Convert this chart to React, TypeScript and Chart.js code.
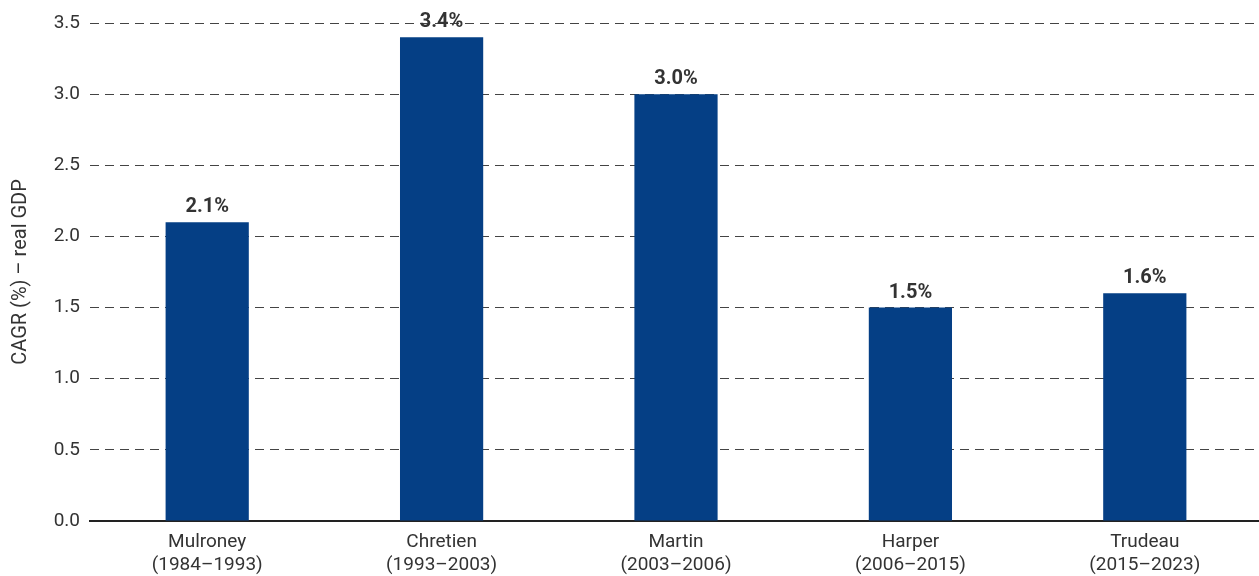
import React, { useEffect, useRef } from "react";
import { Chart, registerables } from "chart.js";

Chart.register(...registerables);

const categories: string[][] = [
  ["Mulroney", "(1984–1993)"],
  ["Chretien", "(1993–2003)"],
  ["Martin", "(2003–2006)"],
  ["Harper", "(2006–2015)"],
  ["Trudeau", "(2015–2023)"],
];
const cagrValues: number[] = [2.1, 3.4, 3.0, 1.5, 1.6];
const yAxisTitle = "CAGR (%) – real GDP";

const BAR_COLOR = "#053f85";
const TEXT_COLOR = "#333333";
const FONT = "Roboto, 'Liberation Sans', sans-serif";

const valueLabels = {
  id: "valueLabels",
  afterDatasetsDraw(chart: any) {
    const ctx = chart.ctx;
    const meta = chart.getDatasetMeta(0);
    ctx.save();
    ctx.fillStyle = TEXT_COLOR;
    ctx.font = `bold 20px ${FONT}`;
    ctx.textAlign = "center";
    ctx.textBaseline = "alphabetic";
    meta.data.forEach((bar: any, i: number) => {
      const v = chart.data.datasets[0].data[i] as number;
      ctx.fillText(v.toFixed(1) + "%", bar.x, bar.y - 10);
    });
    ctx.restore();
  },
};

export default function App() {
  const ref = useRef<HTMLCanvasElement>(null);
  useEffect(() => {
    document.body.style.margin = "0";
    document.body.style.overflow = "hidden";
    const chart = new Chart(ref.current!, {
      type: "bar",
      data: {
        labels: categories,
        datasets: [
          {
            data: cagrValues,
            backgroundColor: BAR_COLOR,
            barPercentage: 0.355,
            categoryPercentage: 1,
          },
        ],
      },
      options: {
        animation: false,
        responsive: false,
        devicePixelRatio: 1,
        layout: { padding: { top: 23, right: 0, left: 0, bottom: 0 } },
        plugins: {
          legend: { display: false },
          tooltip: { enabled: false },
        },
        scales: {
          x: {
            grid: { display: false, drawTicks: false },
            border: { display: true, color: "#222222", width: 2 },
            ticks: {
              color: TEXT_COLOR,
              font: { family: FONT, size: 19, lineHeight: 1.2 },
              padding: 10,
              maxRotation: 0,
              autoSkip: false,
            },
            afterFit(scale: any) {
              scale.height = 55;
            },
          },
          y: {
            min: 0,
            max: 3.5,
            ticks: {
              stepSize: 0.5,
              color: TEXT_COLOR,
              font: { family: FONT, size: 19 },
              padding: 10,
              callback: (v: any) => Number(v).toFixed(1),
            },
            grid: {
              color: (c: any) => (c.tick && c.tick.value === 0 ? "rgba(0,0,0,0)" : "#444444"),
              lineWidth: 1,
              drawTicks: false,
            },
            border: { display: false, dash: [9, 6] },
            title: {
              display: true,
              text: yAxisTitle,
              color: TEXT_COLOR,
              font: { family: FONT, size: 20 },
              padding: { top: 9, bottom: 0 },
            },
            afterFit(scale: any) {
              scale.width = 90;
            },
          },
        },
      },
      plugins: [valueLabels],
    });
    return () => chart.destroy();
  }, []);
  return (
    <div style={{ width: 1262, height: 576 }}>
      <canvas ref={ref} width={1262} height={576} style={{ display: "block" }} />
    </div>
  );
}
